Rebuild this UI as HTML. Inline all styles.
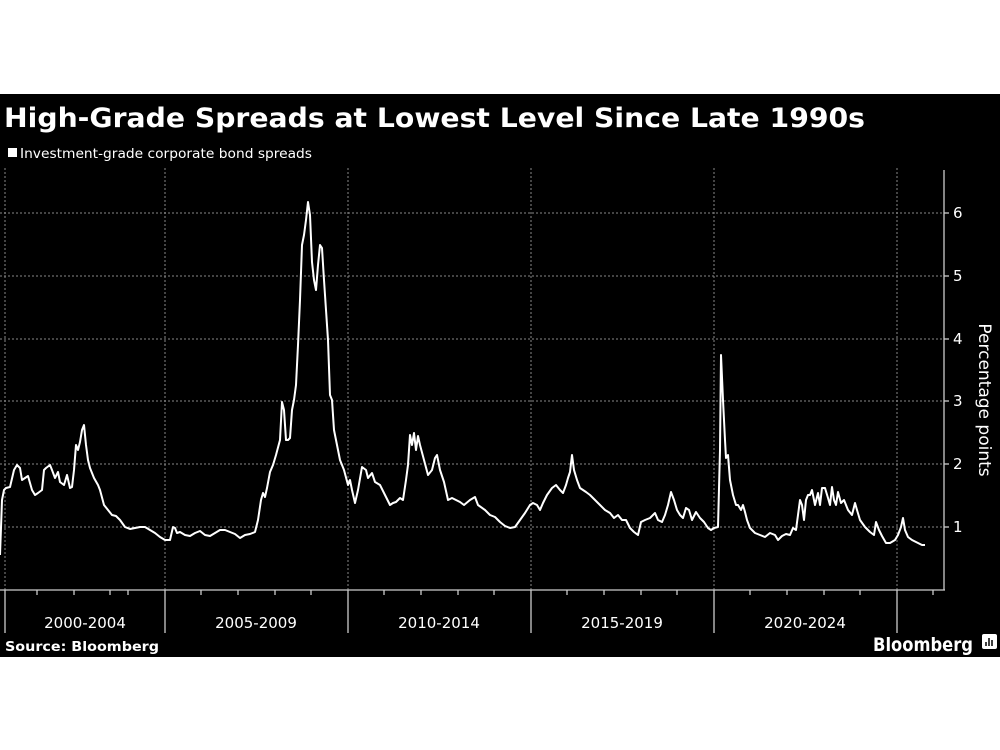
<!DOCTYPE html>
<html><head><meta charset="utf-8"><style>html,body{margin:0;padding:0;background:#fff}svg{display:block}</style></head>
<body>
<svg width="1000" height="750" xmlns="http://www.w3.org/2000/svg" font-family="'DejaVu Sans','Liberation Sans',sans-serif">
<rect x="0" y="0" width="1000" height="750" fill="#fff"/>
<rect x="0" y="94" width="1000" height="563" fill="#000"/>
<text x="4" y="127" fill="#fff" font-size="27" font-weight="bold" textLength="861" lengthAdjust="spacingAndGlyphs">High-Grade Spreads at Lowest Level Since Late 1990s</text>
<rect x="8" y="148" width="9" height="9" fill="#fff"/>
<text x="20" y="158" fill="#fff" font-size="13" textLength="292" lengthAdjust="spacingAndGlyphs">Investment-grade corporate bond spreads</text>
<g stroke="#888" stroke-width="1" stroke-dasharray="2,2">
<line x1="5" y1="168" x2="5" y2="590"/><line x1="165" y1="168" x2="165" y2="590"/><line x1="348" y1="168" x2="348" y2="590"/><line x1="531" y1="168" x2="531" y2="590"/><line x1="714" y1="168" x2="714" y2="590"/><line x1="897" y1="168" x2="897" y2="590"/>
<line x1="0" y1="527" x2="944" y2="527"/><line x1="0" y1="464" x2="944" y2="464"/><line x1="0" y1="401" x2="944" y2="401"/><line x1="0" y1="339" x2="944" y2="339"/><line x1="0" y1="276" x2="944" y2="276"/><line x1="0" y1="213" x2="944" y2="213"/>
</g>
<g stroke="#ccc" stroke-width="1.3">
<line x1="0" y1="590" x2="945" y2="590"/><line x1="944" y1="170" x2="944" y2="590"/>
<line x1="5" y1="590" x2="5" y2="633"/><line x1="165" y1="590" x2="165" y2="633"/><line x1="348" y1="590" x2="348" y2="633"/><line x1="531" y1="590" x2="531" y2="633"/><line x1="714" y1="590" x2="714" y2="633"/><line x1="897" y1="590" x2="897" y2="633"/>
<line x1="37" y1="590" x2="37" y2="595"/><line x1="74" y1="590" x2="74" y2="595"/><line x1="110" y1="590" x2="110" y2="595"/><line x1="128" y1="590" x2="128" y2="595"/>
<line x1="201" y1="590" x2="201" y2="595"/><line x1="238" y1="590" x2="238" y2="595"/><line x1="275" y1="590" x2="275" y2="595"/><line x1="311" y1="590" x2="311" y2="595"/>
<line x1="384" y1="590" x2="384" y2="595"/><line x1="421" y1="590" x2="421" y2="595"/><line x1="458" y1="590" x2="458" y2="595"/><line x1="494" y1="590" x2="494" y2="595"/>
<line x1="567" y1="590" x2="567" y2="595"/><line x1="604" y1="590" x2="604" y2="595"/><line x1="641" y1="590" x2="641" y2="595"/><line x1="677" y1="590" x2="677" y2="595"/>
<line x1="750" y1="590" x2="750" y2="595"/><line x1="787" y1="590" x2="787" y2="595"/><line x1="824" y1="590" x2="824" y2="595"/><line x1="860" y1="590" x2="860" y2="595"/><line x1="933" y1="590" x2="933" y2="595"/>
<line x1="944" y1="527" x2="949" y2="527"/><line x1="944" y1="464" x2="949" y2="464"/><line x1="944" y1="401" x2="949" y2="401"/><line x1="944" y1="339" x2="949" y2="339"/><line x1="944" y1="276" x2="949" y2="276"/><line x1="944" y1="213" x2="949" y2="213"/>
</g>
<g fill="#fff" font-size="15">
<text x="953" y="532">1</text><text x="953" y="469">2</text><text x="953" y="406">3</text><text x="953" y="344">4</text><text x="953" y="281">5</text><text x="953" y="218">6</text>
<text x="85" y="628" text-anchor="middle">2000-2004</text><text x="256" y="628" text-anchor="middle">2005-2009</text><text x="439" y="628" text-anchor="middle">2010-2014</text><text x="622" y="628" text-anchor="middle">2015-2019</text><text x="805" y="628" text-anchor="middle">2020-2024</text>
<text transform="translate(979,400) rotate(90)" text-anchor="middle" font-size="17">Percentage points</text>
</g>
<polyline fill="none" stroke="#fff" stroke-width="2" stroke-linejoin="round" points="0,555 2,500 4,490 6,488 10,487 14,470 17,465 20,468 22,480 25,478 28,476 32,490 35,495 38,493 42,490 44,470 46,468 50,465 52,470 55,478 58,472 60,482 64,485 67,475 70,488 72,487 74,470 76,445 78,450 80,442 82,430 84,425 86,445 88,460 90,468 94,478 98,485 100,490 104,505 108,510 112,515 116,516 120,520 125,527 130,529 135,528 140,527 145,527 150,530 155,533 160,537 165,540 170,540 173,527 175,528 177,533 180,532 185,535 190,536 195,533 200,531 205,535 210,536 215,533 220,530 225,530 230,532 235,534 240,538 245,535 250,534 255,532 258,520 261,500 263,493 265,497 267,488 270,472 273,465 276,455 280,440 282,402 284,410 286,440 288,440 290,438 292,410 294,400 296,385 298,345 300,300 302,245 304,235 306,220 308,202 310,215 312,262 314,280 316,290 318,265 320,245 322,248 324,280 326,310 328,340 330,395 332,400 334,430 336,440 338,450 340,460 344,470 348,485 350,480 352,490 355,503 358,490 362,467 366,470 368,478 372,473 375,482 380,485 385,495 390,505 393,503 396,502 400,498 403,500 406,480 408,465 410,435 412,445 414,433 416,450 418,436 420,445 424,460 428,475 432,470 435,458 437,455 440,470 444,482 448,500 452,498 456,500 460,502 464,505 470,500 475,497 478,505 485,510 490,515 495,517 500,522 505,526 510,528 515,527 520,520 525,513 530,505 533,503 537,505 540,510 543,503 547,495 552,488 556,485 560,490 563,493 566,485 568,478 570,472 572,455 574,470 577,480 580,488 583,490 586,492 590,495 595,500 600,505 605,510 610,513 614,518 618,515 622,520 626,520 630,528 634,532 638,535 641,522 645,520 650,518 655,513 658,520 662,522 665,515 668,505 671,492 674,500 677,510 680,515 683,518 686,508 689,510 692,520 696,512 700,518 704,522 708,528 711,530 714,528 718,527 720,450 721,355 723,400 725,440 726,458 728,455 730,480 733,495 736,505 738,505 741,510 743,505 745,512 747,520 750,528 755,533 760,535 765,537 770,533 775,535 778,540 782,536 786,534 790,535 793,528 796,530 798,515 800,500 802,505 804,520 806,500 808,495 810,495 812,490 815,505 818,493 820,505 822,488 825,488 828,498 830,505 832,487 834,500 836,505 838,492 841,503 844,500 848,510 852,515 855,503 857,510 860,520 865,527 870,532 874,535 876,522 879,530 882,536 886,543 890,543 895,540 898,535 901,527 903,518 905,530 908,537 912,540 918,543 922,545 925,545"/>
<text x="5" y="651" fill="#fff" font-size="13" font-weight="bold" textLength="154" lengthAdjust="spacingAndGlyphs">Source: Bloomberg</text>
<text x="873" y="651" fill="#fff" font-size="19" font-weight="bold" textLength="100" lengthAdjust="spacingAndGlyphs">Bloomberg</text>
<rect x="982" y="634" width="15" height="15" rx="2" fill="#fff"/>
<g stroke="#000" stroke-width="1.5"><line x1="986" y1="646" x2="986" y2="642"/><line x1="989" y1="646" x2="989" y2="638"/><line x1="992" y1="646" x2="992" y2="640"/></g>
</svg>
</body></html>
